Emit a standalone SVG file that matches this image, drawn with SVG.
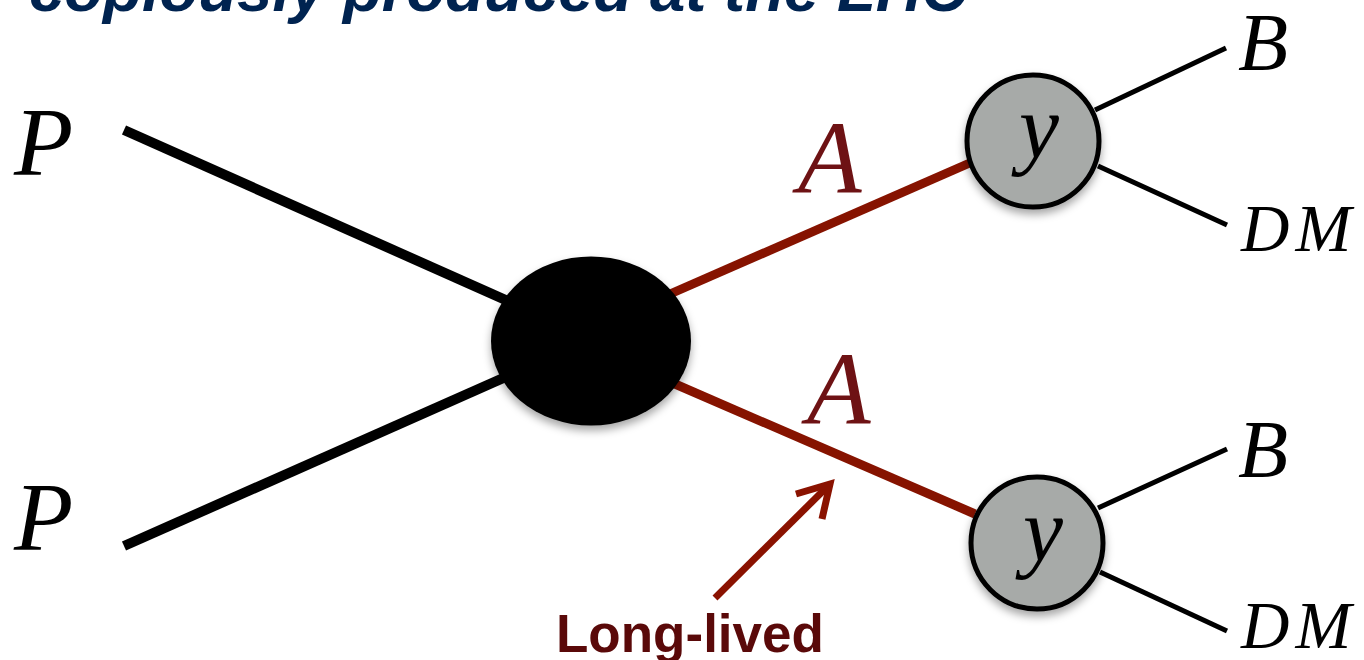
<svg xmlns="http://www.w3.org/2000/svg" width="1364" height="660" viewBox="0 0 1364 660">
<style>
.math{font-family:"Liberation Serif","Times New Roman",serif;font-style:italic}
.red{fill:#6e1214}
.blk{stroke:#000;stroke-linecap:butt;fill:none}
.rl{stroke:#861300;stroke-width:9;fill:none}
.leg{stroke:#000;stroke-width:5;fill:none}
.circ{fill:#a7aaa8;stroke:#000;stroke-width:5}
</style>
<defs>
<filter id="sh" x="-20%" y="-20%" width="140%" height="150%">
<feDropShadow dx="0" dy="5" stdDeviation="4" flood-color="#000" flood-opacity="0.35"/>
</filter>
</defs>
<text x="29" y="11" font-family="Liberation Sans,Arial,sans-serif" font-weight="bold" font-style="italic" font-size="63.5" fill="#002350">copiously produced at the LHC</text>
<g id="connectors">
<line class="blk" stroke-width="10" x1="124" y1="130" x2="510" y2="302"/>
<line class="blk" stroke-width="10" x1="124" y1="546" x2="510" y2="375"/>
<line class="rl" x1="670" y1="294" x2="972" y2="162"/>
<line class="rl" x1="675" y1="384" x2="975" y2="514"/>
<line class="leg" x1="1095" y1="110" x2="1226" y2="48"/>
<line class="leg" x1="1098" y1="166" x2="1227" y2="225"/>
<line class="leg" x1="1098" y1="508" x2="1227" y2="449"/>
<line class="leg" x1="1100" y1="572" x2="1227" y2="631"/>
<g id="arrow" stroke="#8a1200" stroke-width="7" fill="none">
<line x1="715" y1="598" x2="829" y2="485"/>
<polyline points="796,494 830,484 822,519" stroke-linejoin="miter"/>
</g>
</g>
<g id="blob"><ellipse cx="591" cy="341" rx="100" ry="84.5" fill="#000" filter="url(#sh)"/></g>
<g id="y1"><circle cx="1033" cy="141" r="66" class="circ" filter="url(#sh)"/><text class="math" x="1039" y="158" font-size="90" text-anchor="middle">y</text></g>
<g id="y2"><circle cx="1037" cy="543" r="66" class="circ" filter="url(#sh)"/><text class="math" x="1043" y="561" font-size="90" text-anchor="middle">y</text></g>
<g id="labels">
<text class="math" x="14" y="175" font-size="97">P</text>
<text class="math" x="14" y="550" font-size="97">P</text>
<text class="math red" x="798" y="193" font-size="104">A</text>
<text class="math red" x="807" y="424" font-size="104">A</text>
<text class="math" x="1238" y="70" font-size="82">B</text>
<text class="math" x="1238" y="477" font-size="82">B</text>
<text class="math" x="1241" y="251" font-size="67" letter-spacing="6">DM</text>
<text class="math" x="1241" y="648" font-size="67" letter-spacing="6">DM</text>
<text x="556" y="652" font-family="Liberation Sans,Arial,sans-serif" font-weight="bold" font-size="53" fill="#5a0909">Long-lived</text>
</g>
</svg>
